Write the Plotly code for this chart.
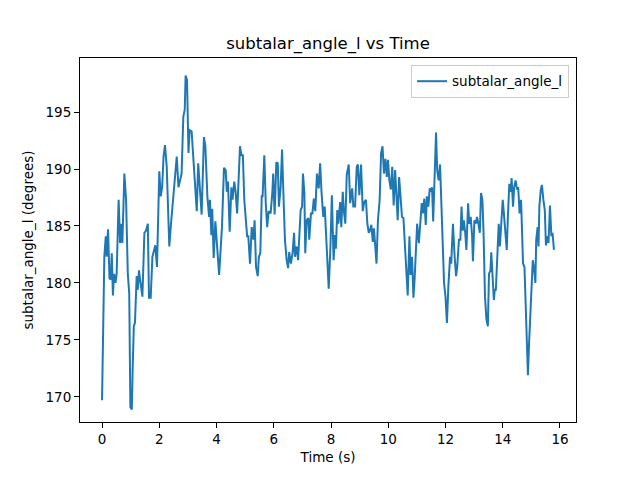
import plotly.graph_objects as go

# values
time_s = [
    0.00, 0.05, 0.08, 0.13, 0.16, 0.21, 0.26, 0.30, 0.34, 0.38, 0.42, 0.47,
    0.51, 0.58, 0.63, 0.68, 0.71, 0.78, 0.84, 0.90, 0.95, 0.99, 1.04, 1.07,
    1.11, 1.15, 1.21, 1.25, 1.29, 1.34, 1.41, 1.48, 1.54, 1.60, 1.64, 1.70,
    1.76, 1.82, 1.86, 1.92, 2.00, 2.05, 2.10, 2.15, 2.20, 2.26, 2.31, 2.35,
    2.41, 2.47, 2.53, 2.56, 2.61, 2.67, 2.72, 2.78, 2.84, 2.89, 2.92, 2.97,
    3.02, 3.06, 3.13, 3.19, 3.25, 3.31, 3.36, 3.42, 3.48, 3.56, 3.61, 3.68,
    3.74, 3.77, 3.82, 3.85, 3.90, 3.96, 4.04, 4.09, 4.15, 4.19, 4.26, 4.32,
    4.36, 4.40, 4.46, 4.52, 4.56, 4.62, 4.67, 4.72, 4.78, 4.82, 4.87, 4.92,
    4.97, 5.02, 5.07, 5.11, 5.17, 5.23, 5.29, 5.33, 5.38, 5.44, 5.48, 5.53,
    5.58, 5.61, 5.67, 5.72, 5.77, 5.82, 5.89, 5.95, 5.98, 6.03, 6.09, 6.14,
    6.18, 6.24, 6.29, 6.33, 6.39, 6.45, 6.50, 6.54, 6.60, 6.66, 6.71, 6.74,
    6.80, 6.85, 6.89, 6.94, 6.99, 7.02, 7.07, 7.10, 7.15, 7.21, 7.24, 7.30,
    7.35, 7.40, 7.45, 7.51, 7.57, 7.62, 7.67, 7.73, 7.78, 7.83, 7.87, 7.92,
    7.98, 8.03, 8.09, 8.14, 8.17, 8.22, 8.26, 8.32, 8.36, 8.41, 8.45, 8.50,
    8.55, 8.62, 8.67, 8.74, 8.78, 8.84, 8.90, 8.94, 8.99, 9.05, 9.11, 9.16,
    9.22, 9.27, 9.32, 9.36, 9.41, 9.46, 9.50, 9.55, 9.59, 9.64, 9.70, 9.75,
    9.80, 9.85, 9.90, 9.95, 9.99, 10.04, 10.09, 10.14, 10.19, 10.24, 10.28,
    10.33, 10.38, 10.44, 10.48, 10.53, 10.58, 10.63, 10.68, 10.74, 10.78,
    10.83, 10.88, 10.92, 10.97, 11.01, 11.07, 11.12, 11.17, 11.21, 11.26,
    11.31, 11.35, 11.40, 11.45, 11.49, 11.53, 11.57, 11.62, 11.67, 11.71,
    11.76, 11.81, 11.85, 11.90, 11.95, 12.00, 12.05, 12.10, 12.16, 12.20,
    12.26, 12.32, 12.37, 12.41, 12.47, 12.52, 12.56, 12.60, 12.64, 12.69,
    12.73, 12.79, 12.83, 12.88, 12.93, 12.96, 13.01, 13.06, 13.10, 13.15,
    13.20, 13.24, 13.29, 13.33, 13.38, 13.43, 13.48, 13.52, 13.57, 13.60,
    13.65, 13.69, 13.72, 13.76, 13.81, 13.86, 13.90, 13.95, 14.00, 14.04,
    14.09, 14.14, 14.18, 14.23, 14.28, 14.31, 14.36, 14.40, 14.45, 14.50,
    14.54, 14.59, 14.64, 14.68, 14.71, 14.76, 14.81, 14.86, 14.88, 14.92,
    14.96, 15.00, 15.05, 15.09, 15.14, 15.17, 15.22, 15.25, 15.28, 15.33,
    15.37, 15.42, 15.47, 15.51, 15.56, 15.60, 15.65, 15.70, 15.74, 15.79,
]

angle_deg = [
    169.7, 180.6, 182.3, 184.1, 182.3, 184.7, 180.4, 180.3, 182.6, 178.9,
    180.8, 180.0, 180.8, 187.3, 183.5, 185.2, 183.5, 189.6, 187.3, 180.8,
    179.1, 169.1, 168.9, 172.4, 176.2, 176.5, 180.6, 179.4, 181.1, 180.1,
    178.8, 184.4, 184.6, 185.2, 178.7, 178.7, 182.3, 182.9, 183.3, 181.4,
    189.8, 187.6, 188.4, 191.1, 192.1, 190.2, 186.7, 183.2, 185.2, 187.0,
    189.3, 189.9, 191.1, 188.4, 189.0, 189.6, 194.6, 195.2, 198.2, 197.8,
    191.4, 193.4, 193.3, 190.8, 188.2, 186.3, 190.5, 187.9, 186.0, 192.8,
    192.0, 187.6, 185.8, 187.3, 184.2, 186.5, 182.2, 185.4, 182.0, 180.7,
    183.2, 184.9, 190.1, 189.9, 188.0, 188.9, 184.5, 188.4, 187.3, 188.9,
    187.9, 186.1, 189.6, 192.0, 191.2, 191.2, 187.3, 185.2, 184.1, 184.1,
    181.7, 184.9, 183.8, 185.5, 181.4, 180.6, 182.3, 182.6, 187.6, 187.6,
    191.2, 187.0, 184.9, 186.3, 186.1, 187.9, 189.6, 186.0, 190.6, 190.5,
    186.7, 188.4, 191.7, 188.4, 183.8, 182.0, 181.3, 182.7, 181.7, 182.7,
    184.4, 182.3, 183.2, 182.0, 184.4, 186.4, 186.7, 189.6, 187.9, 182.6,
    185.5, 185.7, 183.8, 186.1, 186.1, 187.4, 186.3, 189.6, 188.3, 190.5,
    187.9, 185.8, 186.7, 184.4, 182.0, 179.5, 183.2, 187.7, 182.0, 184.2,
    183.0, 186.4, 185.2, 187.1, 184.9, 188.0, 186.3, 185.2, 189.5, 190.4,
    187.0, 188.3, 186.7, 186.7, 190.2, 190.4, 187.7, 190.4, 186.3, 187.1,
    187.3, 185.2, 184.4, 184.6, 185.1, 183.6, 184.8, 182.7, 181.7, 185.5,
    187.3, 191.4, 192.0, 189.6, 190.9, 189.3, 190.8, 189.0, 188.2, 190.2,
    186.8, 189.9, 187.6, 185.5, 189.3, 187.6, 185.8, 185.7, 183.2, 181.4,
    178.9, 184.1, 180.7, 182.3, 178.7, 180.3, 182.5, 185.2, 183.5, 185.8,
    187.0, 186.1, 187.4, 185.1, 187.6, 186.7, 188.3, 188.0, 188.4, 185.4,
    190.2, 193.2, 189.9, 189.0, 190.4, 187.3, 183.5, 180.0, 178.8, 176.5,
    179.7, 182.3, 181.7, 185.2, 182.3, 180.6, 181.4, 183.8, 183.8, 186.7,
    184.6, 185.5, 184.4, 182.9, 187.0, 185.2, 185.8, 184.1, 181.9, 185.5,
    185.2, 185.8, 185.2, 184.4, 187.9, 187.3, 184.4, 178.8, 176.8, 176.2,
    180.8, 181.1, 182.7, 180.3, 178.5, 179.4, 179.4, 182.3, 185.2, 183.2,
    185.2, 187.3, 186.1, 184.4, 182.9, 185.8, 188.7, 188.0, 189.2, 186.7,
    188.4, 189.0, 188.2, 188.4, 186.1, 187.3, 183.8, 181.7, 181.4, 177.3,
    174.4, 171.9, 174.7, 177.3, 180.3, 182.0, 181.4, 180.0, 183.8, 184.9,
    183.2, 186.7, 188.2, 188.6, 187.3, 186.4, 183.3, 184.1, 183.5, 186.8,
    184.1, 184.4, 182.9,
]

x_ticks = [0, 2, 4, 6, 8, 10, 12, 14, 16]
y_ticks = [170, 175, 180, 185, 190, 195]

fig = go.Figure()
fig.add_trace(go.Scatter(x=time_s, y=angle_deg, mode='lines',
                         name='subtalar_angle_l',
                         line=dict(color='#1f77b4', width=2)))

axis_style = dict(showline=True, mirror=True, linecolor='black',
                  linewidth=1, ticks='outside', ticklen=5,
                  tickcolor='black', showgrid=False, zeroline=False,
                  tickfont=dict(size=13.5, color='black'))

fig.update_xaxes(range=[-0.77, 16.56], tickvals=x_ticks,
                 title=dict(text='Time (s)', font=dict(size=13.5),
                            standoff=6),
                 **axis_style)
fig.update_yaxes(range=[167.8, 199.74], tickvals=y_ticks,
                 title=dict(text='subtalar_angle_l (degrees)',
                            font=dict(size=13.5), standoff=8),
                 **axis_style)

# the page puts the figure about 8px in from the top left corner,
# so the margins are shifted to land the axes where the original has them
fig.update_layout(
    width=640, height=480,
    margin=dict(l=72, r=72, t=50, b=66),
    paper_bgcolor='white', plot_bgcolor='white',
    font=dict(family='DejaVu Sans', color='black'),
    title=dict(text='subtalar_angle_l vs Time', x=0.5, xref='paper',
               xanchor='center', y=1 - 35 / 480, yanchor='middle',
               font=dict(size=16.5)),
    showlegend=True,
    legend=dict(x=0.986, y=0.981, xanchor='right', yanchor='top',
                bordercolor='#cccccc', borderwidth=1,
                bgcolor='rgba(255,255,255,0.8)',
                font=dict(size=13.5)),
)

fig.write_html("out.html")
